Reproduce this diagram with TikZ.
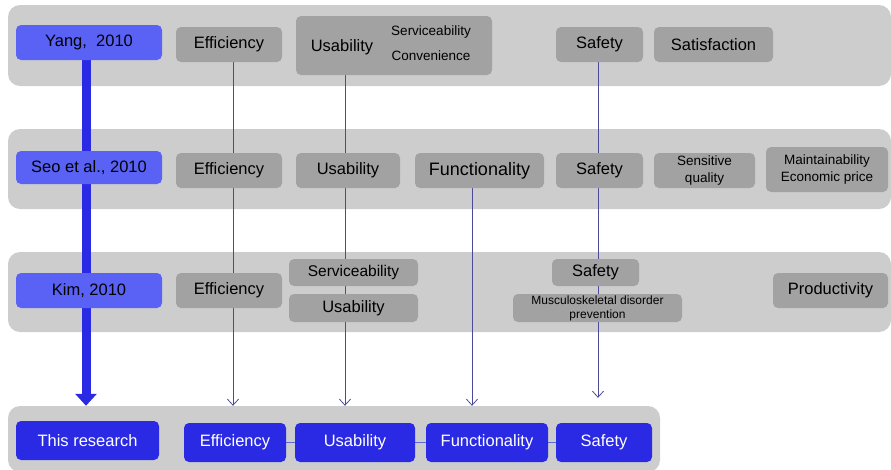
\documentclass[tikz,border=0pt]{standalone}
\usepackage{fontspec}
\setmainfont{Liberation Sans}
\usetikzlibrary{arrows.meta,backgrounds}

\definecolor{bandgray}{RGB}{205,205,205}
\definecolor{boxgray}{RGB}{162,162,162}
\definecolor{authblue}{RGB}{90,98,245}
\definecolor{resblue}{RGB}{42,42,228}
\definecolor{linkblue}{RGB}{74,74,150}
\definecolor{rowlinkblue}{RGB}{95,105,215}

\tikzset{
	band/.style={fill=bandgray, rounded corners=12pt, inner sep=0pt},
	item/.style={fill=boxgray, rounded corners=5pt, inner sep=0pt, align=center,
		minimum height=35pt, font=\fontsize{16.5}{19}\selectfont},
	small/.style={font=\fontsize{13.5}{16.5}\selectfont},
	author/.style={item, fill=authblue},
	result/.style={item, fill=resblue, text=white},
	link/.style={linkblue, line width=0.8pt, -{Straight Barb[length=6pt,width=11pt]}},
}

\begin{document}
\begin{tikzpicture}[x=1pt, y=-1pt]
	\useasboundingbox (0,0) rectangle (891,469);

	% Yang
	\node[author, minimum width=146pt] (yang) at (89,42.5) {Yang,~~2010};
	\node[item, minimum width=106pt] (eff1) at (229,44.5) {Efficiency};
	\node[item, minimum width=196pt, minimum height=59pt] (use1) at (394,45.5) {};
	\node[font=\fontsize{16.5}{19}\selectfont] (use1txt) at (342,47) {Usability};
	\node[small] (serv1) at (431,32) {Serviceability};
	\node[small] (conv1) at (431,56) {Convenience};
	\node[item, minimum width=87pt] (saf1) at (599.5,44.5) {Safety};
	\node[item, minimum width=119pt] (sat1) at (713.5,44.5) {Satisfaction};

	% Seo
	\node[author, minimum width=146pt, minimum height=33pt] (seo) at (89,167.5) {Seo et al., 2010};
	\node[item, minimum width=106pt] (eff2) at (229,170.5) {Efficiency};
	\node[item, minimum width=104pt] (use2) at (348,170.5) {Usability};
	\node[item, minimum width=129pt, font=\fontsize{18}{20}\selectfont] (fun2) at (479.5,170.5) {Functionality};
	\node[item, minimum width=87pt] (saf2) at (599.5,170.5) {Safety};
	\node[item, small, minimum width=101pt] (sens2) at (704.5,170.5) {Sensitive\\quality};
	\node[item, small, minimum width=122pt, minimum height=45pt] (main2) at (827,169.5) {Maintainability\\Economic price};

	% Kim
	\node[author, minimum width=146pt] (kim) at (89,290.5) {Kim, 2010};
	\node[item, minimum width=106pt] (eff3) at (229,290.5) {Efficiency};
	\node[item, minimum width=129pt, minimum height=27pt, font=\fontsize{15.5}{18}\selectfont] (serv3) at (353.5,272.5) {Serviceability};
	\node[item, minimum width=129pt, minimum height=28pt] (use3) at (353.5,308) {Usability};
	\node[item, minimum width=87pt, minimum height=27pt] (saf3) at (595.5,272.5) {Safety};
	\node[item, minimum width=169pt, minimum height=28pt, font=\fontsize{12}{14}\selectfont] (msd3) at (597.5,308) {Musculoskeletal disorder\\prevention};
	\node[item, minimum width=115pt] (prod3) at (830.5,290.5) {Productivity};

	% This research
	\node[result, minimum width=143pt, minimum height=39pt] (res) at (87.5,440.5) {This research};
	\node[result, minimum width=102pt, minimum height=39pt] (eff4) at (235,442.5) {Efficiency};
	\node[result, minimum width=120pt, minimum height=39pt] (use4) at (355,442.5) {Usability};
	\node[result, minimum width=122pt, minimum height=39pt] (fun4) at (487,442.5) {Functionality};
	\node[result, minimum width=96pt, minimum height=39pt] (saf4) at (604,442.5) {Safety};

	\coordinate (colY) at (86,0);
	\coordinate (colE) at (233,0);
	\coordinate (colU) at (345,0);
	\coordinate (colF) at (472,0);
	\coordinate (colS) at (598,0);

	\begin{pgfonlayer}{background}
		% Полосы
		\node[band, minimum width=883pt, minimum height=81pt] (b1) at (449.5,45.5) {};
		\node[band, minimum width=883pt, minimum height=80pt] (b2) at (449.5,169) {};
		\node[band, minimum width=883pt, minimum height=80pt] (b3) at (449.5,292) {};
		\node[band, minimum width=652pt, minimum height=66pt] (b4) at (334,439) {};

		% Стрелки
		\draw[resblue, line width=9pt, -{Triangle[width=21pt,length=12pt]}]
			(yang.south -| colY) -- (colY |- b4.north);
		\foreach \c/\top in {colE/eff1, colU/use1, colF/fun2}
			\draw[link] (\top.south -| \c) -- (\c |- b4.north);
		\draw[link, shorten >=8pt] (saf1.south -| colS) -- (colS |- b4.north);

		\foreach \a/\b in {eff4/use4, use4/fun4, fun4/saf4}
			\draw[rowlinkblue, line width=1pt] (\a) -- (\b);
	\end{pgfonlayer}
\end{tikzpicture}
\end{document}
